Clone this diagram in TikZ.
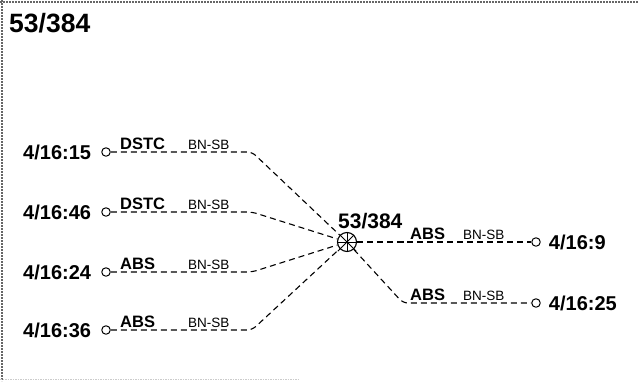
\documentclass[tikz,border=0pt]{standalone}
\usepackage{fontspec}
\setmainfont{Liberation Sans}
\usetikzlibrary{positioning, calc}
\tikzset{
  every picture/.style={line join=round},
  px/.style={x=1pt, y=-1pt},
  link/.style={dash pattern=on 6pt off 4pt, line width=1.1pt, rounded corners=5pt},
  term/.style={circle, draw, line width=1pt, minimum size=8.5pt, inner sep=0pt},
  hubnode/.style={circle, draw, line width=1.1pt, minimum size=19pt, inner sep=0pt},
  portname/.style={font=\fontsize{20}{24}\selectfont\bfseries, inner sep=0pt},
  kindname/.style={font=\fontsize{16.5}{20}\selectfont\bfseries, inner sep=0pt, anchor=base west},
  busname/.style={font=\fontsize{13.5}{16}\selectfont, inner sep=0pt, anchor=base west},
  frame/.style={gray!80!black, densely dotted, line width=2pt},
}

\begin{document}
\begin{tikzpicture}[px]
  \useasboundingbox (0,0) rectangle (638,381);
  % page frame
  \draw[frame] (0,1.5) -- (638,1.5) (1.5,0) -- (1.5,381);
  \draw[frame, gray!40, line width=1.5pt] (0,379.5) -- (300,379.5);
  \node[anchor=north west, font=\fontsize{26.5}{30}\selectfont\bfseries, inner sep=0pt] (title) at (9,13) {53/384};
  % hub
  \node[hubnode] (hub) at (347,242) {};
  \foreach \a in {0,45,...,315} \draw[line width=1pt] (hub.center) -- (hub.\a);
  \draw[line width=1pt] (hub.225) -- +(225:3pt) (hub.315) -- +(315:3pt);
  \node[font=\fontsize{21}{25}\selectfont\bfseries, inner sep=0pt, anchor=south west] (hubname) at (338,229) {53/384};
  % incoming
  \foreach \i/\y/\port/\kind in {1/152/{4/16:15}/DSTC, 2/212/{4/16:46}/DSTC, 3/272/{4/16:24}/ABS, 4/330/{4/16:36}/ABS}{
    \node[term] (in\i) at (106,\y) {};
    \node[portname, left=10pt of in\i] (inp\i) {\port};
    \coordinate (inb\i) at (252,\y);
    \node[kindname] (ink\i) at (120,\y-2.5) {\kind};
    \node[busname] (inbus\i) at (188,\y-2.5) {BN-SB};
    \draw[link] (in\i) -- (inb\i) -- (hub);
  }
  % outgoing
  \foreach \i/\y/\port/\bx in {1/242/{4/16:9}/400, 2/303/{4/16:25}/403}{
    \node[term] (out\i) at (536,\y) {};
    \node[portname, right=8pt of out\i] (outp\i) {\port};
    \coordinate (outb\i) at (\bx,\y);
    \node[kindname] (outk\i) at (410,\y-2.5) {ABS};
    \node[busname] (outbus\i) at (463,\y-2.5) {BN-SB};
    \draw[link] (hub) -- (outb\i) -- (out\i);
  }
\end{tikzpicture}
\end{document}
